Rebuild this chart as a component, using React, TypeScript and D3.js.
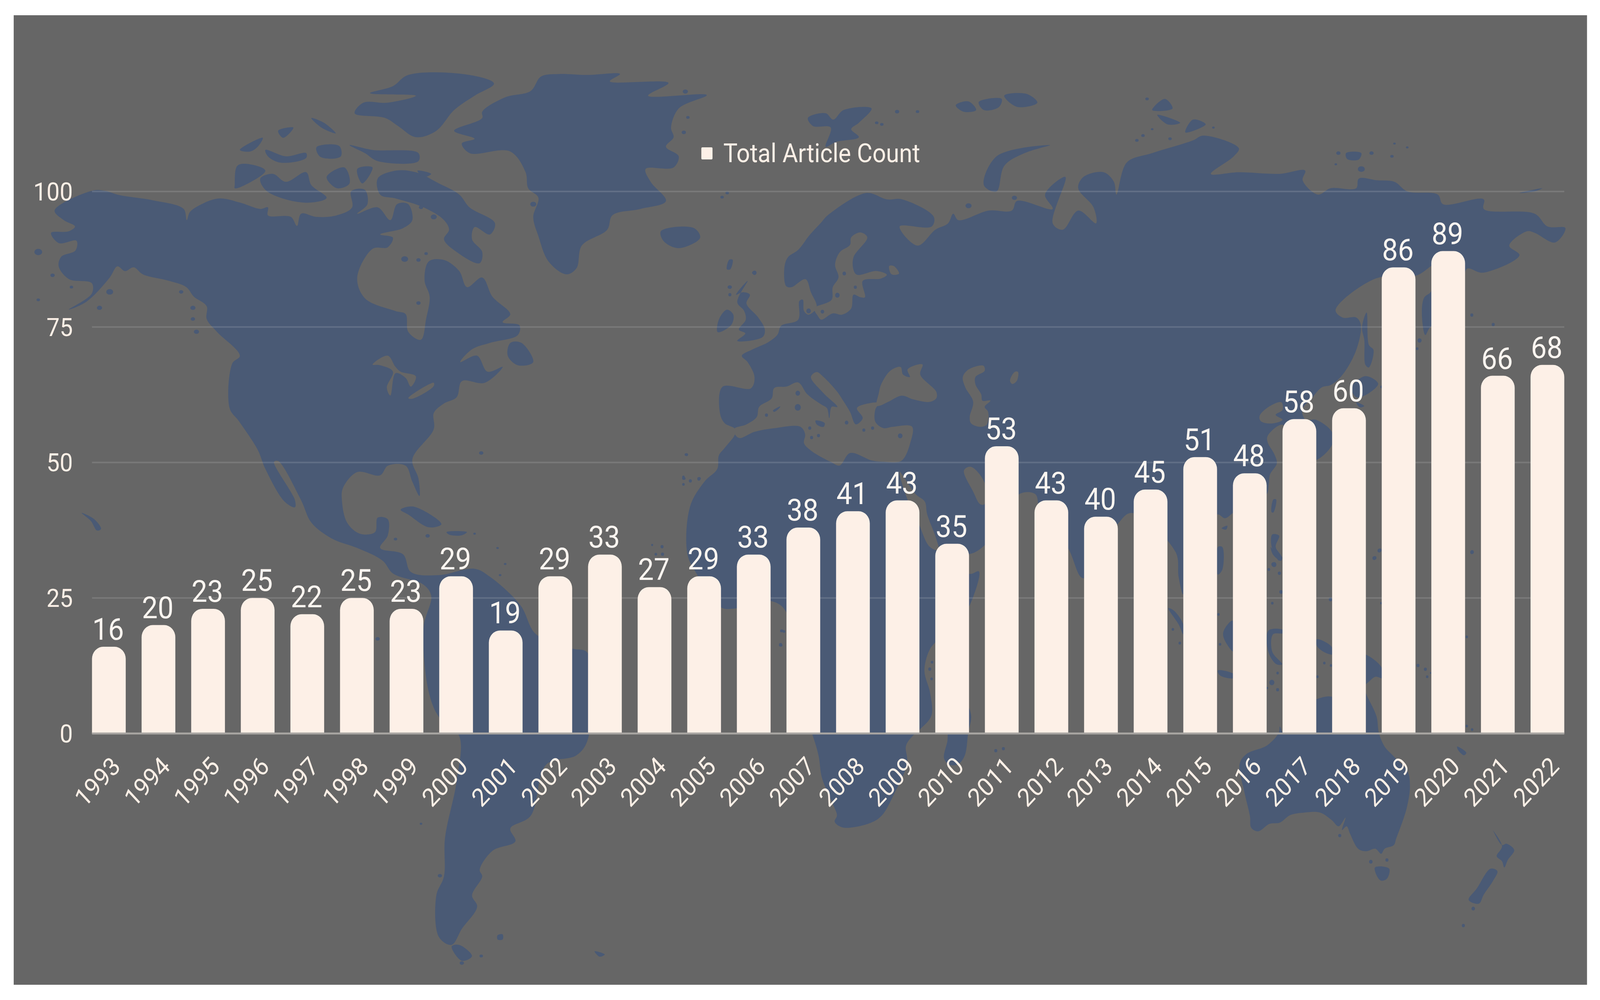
import React from "react";
import * as d3 from "d3";

const years = ["1993","1994","1995","1996","1997","1998","1999","2000","2001","2002","2003","2004","2005","2006","2007","2008","2009","2010","2011","2012","2013","2014","2015","2016","2017","2018","2019","2020","2021","2022"];
const articleCounts = [16,20,23,25,22,25,23,29,19,29,33,27,29,33,38,41,43,35,53,43,40,45,51,48,58,60,86,89,66,68];
const yTicks = [0,25,50,75,100];
const seriesName = "Total Article Count";

type Pt = [number, number];
type Tile = [number, number, number, number];
// Outline tracing frames: origin and scale of each traced crop of the backdrop map
const Z1: Tile = [0,0,1.4145,0.8163];
const Z2: Tile = [2218,0,1.414,0.8163];
const Z3: Tile = [0,1280,1.4145,0.8157];
const Z4: Tile = [2218,1280,1.414,0.8157];
const Z7: Tile = [1900,550,0.638,0.638];
const Z8: Tile = [3300,500,0.638,0.638];
const Z9: Tile = [1800,1200,0.638,0.638];
const Z10: Tile = [3200,1400,0.638,0.638];
const T = (t: Tile, pts: number[][]): Pt[] => pts.map(([x,y]) => [t[0]+x*t[2], t[1]+y*t[3]] as Pt);

const americas: Pt[] = [
  ...T(Z1,[[107,660],[180,598],[205,598],[235,612],[300,628],[360,655],[366,690],[372,665],[395,640],[430,622],[470,635],[510,655],[525,650],[525,675],[570,680],[582,708],[590,670],[620,680],[660,675],[690,650],[688,600],[715,595],[720,640],[700,670],[740,650],[765,690],[778,640],[800,640],[808,690],[790,715],[745,735],[770,745],[760,775],[730,780],[700,870],[715,935],[775,975],[795,985],[800,1040],[825,1065],[835,1000],[842,930],[832,880],[840,820],[870,815],[900,850],[915,900],[945,870],[965,930],[1000,985],[985,1010],[1018,1020],[1015,1050],[960,1075],[925,1095],[902,1135],[935,1115],[955,1165],[985,1150],[950,1200],[905,1195],[895,1245],[870,1265],[850,1295],[850,1345],[808,1440],[820,1500],[822,1555],[808,1510],[795,1460],[760,1460],[745,1490],[700,1480],[672,1530]]),
  ...T(Z3,[[670,0],[680,70],[705,105],[735,100],[740,55],[760,60],[760,110],[745,150],[790,170],[805,225],[860,235],[930,215],[960,240],[1020,330],[1050,420],[1120,465],[1152,480],[1152,750],[1130,800],[1070,830],[1040,990],[1000,1030],[1010,1070],[965,1100],[940,1160],[945,1180],[925,1240],[935,1275],[905,1345],[885,1395],[860,1370],[855,1240],[870,1180],[872,1060],[895,880],[900,740],[860,680],[840,600],[830,400],[845,300],[830,265],[770,230],[750,190],[700,150],[650,120],[610,70],[590,0]]),
  ...T(Z1,[[545,1445],[537,1448],[578,1568]]),
  ...T(Z3,[[578,22],[558,5]]),
  ...T(Z1,[[520,1470],[505,1410],[468,1320],[450,1280],[455,1140],[470,1115],[425,1040],[405,1000],[405,960],[380,930],[365,900],[330,880],[280,860],[262,838],[245,850],[230,835],[215,870],[170,945],[135,970],[180,920],[180,888],[135,875],[115,835],[120,805],[148,785],[150,755],[115,762],[100,730],[135,725],[147,710],[125,690]]),
];

const afroEurasia: Pt[] = [
  ...T(Z7,[[215,858],[170,835],[150,795],[160,690],[285,695],[300,650],[270,590],[245,565],[290,540],[360,510],[400,480],[415,445],[490,420],[495,345],[510,340],[515,385],[535,400],[570,370],[545,310],[522,258],[460,290],[437,285],[430,210],[445,170],[490,140],[540,80],[590,30],[620,0]]),
  ...T(Z2,[[130,605],[170,625],[200,625],[262,680],[258,710],[195,710],[230,770],[265,720],[290,700],[300,670],[310,690],[370,660],[415,660],[425,630],[495,655],[480,610],[520,555],[495,700],[515,720],[545,660],[580,700],[575,650],[545,590],[555,555],[595,540],[615,570],[620,610],[640,510],[690,480],[770,440],[790,425],[860,465],[850,490],[805,545],[860,540],[940,545],[990,535],[985,565],[1015,610],[1040,590],[1090,590],[1095,560],[1130,565],[1165,570],[1190,600],[1250,610],[1260,640],[1340,625],[1340,655],[1440,670],[1465,710],[1500,715],[1480,760],[1440,730],[1425,725],[1390,770],[1410,800]]),
  ...T(Z8,[[1270,310],[1200,295],[1185,420],[1100,500],[1040,530],[1020,560],[1005,470],[1015,410],[1045,385],[1060,280],[985,320],[800,335],[630,460],[660,490],[720,490],[740,520],[720,620],[660,720],[610,760],[570,770],[530,810],[485,860],[500,900],[545,900],[615,950],[615,1000],[550,1060],[520,1060],[460,1000],[400,920],[335,965],[335,990],[365,1040],[375,1075],[345,1120],[340,1160],[330,1200],[190,1270],[150,1295],[115,1280]]),
  ...T(Z10,[[140,150],[125,190],[105,120],[92,20]]),
  ...T(Z4,[[650,40],[620,80],[555,245],[525,150],[470,30]]),
  ...T(Z7,[[1520,1120],[1450,1120],[1380,1230],[1300,1325],[1235,1360],[1100,1340],[1095,1375],[1235,1440],[1275,1430],[1235,1565]]),
  ...T(Z9,[[1320,640],[1243,695],[1215,730],[1195,810],[1220,900],[1225,990],[1175,1045],[1150,1065],[1115,1110],[1120,1180],[1060,1310],[1010,1390],[960,1420],[840,1438],[805,1415],[815,1390],[800,1350],[750,1240],[735,1150],[708,1065],[600,800],[595,575],[530,530],[370,560],[310,555],[205,420],[165,340],[177,150],[240,50],[295,0]]),
  ...T(Z7,[[145,965],[170,935],[215,880]]),
];

const australia: Pt[] = T(Z10,[[370,870],[400,830],[490,795],[540,745],[545,720],[560,745],[640,640],[705,610],[770,600],[860,650],[905,560],[925,600],[965,680],[975,745],[1000,800],[1040,840],[1100,900],[1110,960],[1095,1050],[1050,1170],[1040,1195],[1000,1210],[985,1230],[960,1210],[920,1220],[885,1210],[850,1150],[835,1120],[815,1135],[830,1085],[800,1120],[770,1095],[720,1065],[650,1065],[590,1075],[545,1105],[500,1110],[450,1140],[420,1125],[415,1080],[390,980]]);
const greenland: Pt[] = T(Z1,[[945,350],[990,305],[1040,285],[1060,240],[1095,232],[1150,235],[1215,232],[1195,255],[1310,260],[1270,300],[1385,298],[1330,340],[1315,400],[1320,430],[1305,460],[1330,490],[1320,525],[1265,530],[1275,570],[1305,630],[1255,655],[1200,675],[1190,720],[1140,770],[1130,840],[1110,860],[1075,820],[1055,740],[1045,680],[1055,620],[1035,590],[1030,540],[1000,475],[920,480],[905,450],[930,435],[890,410],[945,370]]);

const seas: Pt[][] = [
  // Mediterranean
  T(Z7,[[212,858],[265,840],[310,810],[320,770],[375,735],[385,695],[440,688],[490,672],[530,720],[590,760],[615,775],[625,815],[635,770],[660,770],[600,715],[545,650],[570,630],[600,650],[660,710],[685,745],[715,790],[740,840],[770,815],[745,775],[800,755],[840,755],[825,780],[825,830],[860,855],[900,850],[985,850],[975,920],[950,975],[930,990],[860,990],[810,985],[715,955],[670,1005],[630,990],[545,945],[515,915],[520,880],[500,850],[390,855],[300,870],[235,895],[215,880]]),
  // Black Sea
  T(Z7,[[840,715],[850,680],[890,625],[935,610],[945,640],[975,650],[965,620],[1030,600],[1020,640],[1090,710],[1090,735],[1060,750],[990,740],[940,725],[880,750],[845,765],[830,765]]),
  // Caspian
  T(Z7,[[1205,650],[1230,620],[1295,605],[1300,625],[1260,650],[1260,680],[1285,720],[1290,745],[1325,745],[1300,770],[1315,790],[1310,840],[1280,850],[1240,835],[1235,810],[1250,750],[1215,690]]),
  T(Z7,[[1410,665],[1430,630],[1445,630],[1440,665],[1420,678]]),
  // Baltic
  T(Z7,[[560,375],[635,340],[640,290],[665,250],[650,200],[670,150],[715,120],[720,90],[760,70],[790,90],[730,170],[730,220],[745,240],[830,225],[875,240],[850,255],[770,265],[780,330],[760,330],[730,320],[720,375],[680,400],[640,395],[590,420],[575,405]]),
  T(Z7,[[885,205],[905,205],[928,235],[895,238]]),
  // Persian Gulf, Red Sea, Aden
  T(Z7,[[1210,1025],[1240,1010],[1300,1075],[1300,1160],[1280,1160],[1250,1110]]),
  T(Z7,[[930,1030],[1000,1120],[1040,1150],[1050,1200],[1090,1300],[1100,1345],[1060,1330],[1010,1230],[960,1130]]),
  // Bohai
  T(Z8,[[300,885],[345,845],[395,830],[400,860],[370,880],[400,900],[350,915],[305,905]]),
  // Great Lakes
  T(Z1,[[730,1143],[760,1115],[775,1150],[785,1165],[815,1180],[805,1212],[795,1185],[775,1170],[765,1240],[758,1215],[770,1165],[745,1145]]),
  T(Z1,[[800,1248],[850,1200],[850,1210],[808,1250]]),
];

const islands: Pt[][] = [
  T(Z1,[[740,560],[775,535],[815,540],[860,575],[900,610],[920,650],[970,700],[960,735],[930,712],[925,750],[945,790],[940,825],[895,790],[870,750],[880,720],[870,690],[830,650],[775,622],[745,610]]),
  T(Z1,[[510,560],[535,545],[560,570],[600,540],[610,580],[640,620],[610,635],[560,625],[520,595]]),
  T(Z1,[[460,580],[465,520],[490,515],[520,535],[480,580],[460,590]]),
  T(Z1,[[640,555],[675,525],[685,575],[660,590]]),
  T(Z1,[[700,530],[730,525],[710,575]]),
  T(Z1,[[818,535],[845,545],[830,555]]),
  T(Z1,[[520,470],[560,490],[600,480],[600,495],[550,510],[525,490]]),
  T(Z1,[[725,292],[770,270],[800,235],[920,235],[968,262],[930,300],[890,345],[855,410],[815,430],[780,395],[755,370],[695,355],[712,322],[760,322],[815,300]]),
  T(Z1,[[685,455],[730,470],[820,480],[820,505],[740,505],[715,480]]),
  T(Z1,[[610,370],[635,385],[658,418],[630,400]]),
  T(Z1,[[470,470],[515,432],[505,460],[490,475]]),
  T(Z1,[[545,410],[575,400],[555,432]]),
  T(Z1,[[620,462],[665,458],[668,490],[628,492]]),
  T(Z1,[[1295,725],[1360,715],[1372,745],[1330,778],[1300,755]]),
  T(Z1,[[1000,1075],[1022,1075],[1045,1135],[1015,1145],[995,1115]]),
  T(Z2,[[15,370],[50,355],[65,375],[85,345],[140,340],[115,385],[100,405],[115,430],[70,445],[50,460],[60,400],[25,395]]),
  T(Z2,[[360,580],[385,490],[490,455],[440,480],[400,520],[385,600]]),
  T(Z2,[[715,310],[730,340],[690,345]]),
  T(Z2,[[700,360],[745,385],[720,390]]),
  T(Z2,[[770,375],[795,390],[755,415]]),
  T(Z2,[[1410,605],[1455,590],[1440,600]]),
  T(Z2,[[1070,480],[1100,480],[1095,500],[1072,498]]),
  T(Z2,[[305,330],[330,318],[345,345],[320,350]]),
  T(Z2,[[350,320],[395,310],[390,335],[360,345]]),
  T(Z2,[[400,300],[445,295],[465,322],[425,335]]),
  // UK, Ireland
  T(Z7,[[270,265],[220,320],[250,310],[280,320],[265,355],[315,410],[345,460],[335,490],[225,505],[260,475],[232,460],[262,420],[255,385],[225,350]]),
  T(Z7,[[145,420],[180,380],[208,400],[200,440],[140,470]]),
  T(Z7,[[190,180],[205,180],[195,218],[180,218]]),
  T(Z7,[[565,825],[605,835],[600,850],[570,840]]),
  T(Z7,[[380,785],[412,768],[405,778],[385,790]]),
  // Madagascar
  T(Z9,[[1380,950],[1398,990],[1385,1060],[1370,1150],[1340,1185],[1300,1185],[1280,1160],[1295,1090],[1300,1040],[1340,990]]),
  // Sakhalin
  T(Z8,[[765,470],[775,600],[795,620],[775,690],[760,680],[755,580],[745,530]]),
  // Japan
  T(Z8,[[700,770],[760,725],[815,755],[780,790],[720,810]]),
  T(Z8,[[720,830],[755,845],[735,850]]),
  T(Z8,[[135,1335],[160,1325],[155,1340]]),
  T(Z8,[[360,1220],[372,1220],[360,1272],[352,1270]]),
  T(Z8,[[355,1360],[385,1365],[370,1410],[395,1450],[385,1465],[360,1430],[350,1395]]),
  // South-east Asia
  T(Z10,[[60,245],[85,255],[125,310],[125,350],[105,310]]),
  T(Z10,[[275,0],[295,0],[295,90],[275,110]]),
  T(Z10,[[340,295],[345,420],[315,390],[298,350],[310,320]]),
  T(Z10,[[275,495],[345,510],[345,525],[285,515]]),
  T(Z10,[[505,0],[530,30],[555,40],[550,55],[515,30]]),
  T(Z10,[[495,335],[560,333],[560,345],[515,350],[512,420],[555,470],[530,470],[495,420]]),
  T(Z10,[[705,370],[770,400],[775,430],[735,420],[705,395]]),
  T(Z10,[[900,430],[985,480],[990,525],[960,520],[925,545],[900,560]]),
  // Tasmania, New Zealand, New Caledonia
  T(Z10,[[958,1285],[1020,1290],[1010,1330],[985,1338],[970,1325]]),
  T(Z10,[[1470,1135],[1510,1195],[1530,1190],[1563,1215],[1535,1255],[1520,1285],[1510,1260],[1487,1240],[1510,1200]]),
  T(Z10,[[1460,1290],[1490,1300],[1470,1340],[1430,1395],[1410,1430],[1365,1415],[1400,1370]]),
  T(Z10,[[1315,800],[1355,825],[1345,835],[1320,815]]),
  // Caribbean, South Atlantic
  T(Z3,[[785,30],[810,20],[865,75],[840,85],[800,45]]),
  T(Z3,[[875,100],[915,100],[905,110],[880,108]]),
  T(Z3,[[885,1400],[900,1395],[925,1430],[905,1445]]),
  T(Z3,[[975,1365],[985,1362],[985,1378],[975,1378]]),
  T(Z3,[[1165,1415],[1185,1425],[1175,1432]]),
  T(Z3,[[160,40],[185,60],[198,90],[190,95],[178,65]]),
];

const dots: [Tile, number, number, number][] = [
  [Z1,75,790,9],[Z1,103,863,5],[Z1,140,900,4],[Z1,75,940,4],[Z1,195,965,6],[Z1,215,915,8],[Z1,355,915,5],[Z1,378,965,6],[Z1,378,1000,5],[Z1,385,1040,6],
  [Z1,1343,287,6],[Z1,1340,415,5],[Z1,1348,368,4],[Z1,1045,640,7],[Z1,1050,690,5],[Z1,850,680,7],[Z1,825,650,5],[Z1,793,812,8],[Z1,820,815,5],[Z1,835,795,4],[Z1,848,1135,7],[Z1,820,950,5],[Z1,943,1420,5],[Z1,1345,1425,4],[Z1,1340,1500,4],[Z1,1370,1500,4],[Z1,1430,900,5],[Z1,1478,855,5],[Z1,1425,605,4],[Z1,1415,618,4],
  [Z2,190,350,5],[Z2,230,350,4],[Z2,150,385,4],[Z2,160,390,4],[Z2,680,310,4],[Z2,690,405,3],[Z2,660,440,4],[Z2,672,425,4],[Z2,725,435,4],[Z2,810,400,3],[Z2,1055,480,5],[Z2,1120,480,5],[Z2,1160,490,4],[Z2,1100,530,8],[Z2,1050,515,3],[Z2,1165,450,3],[Z2,1190,462,3],[Z2,420,620,6],[Z2,330,645,7],
  [Z3,838,112,5],[Z3,775,122,4],[Z3,740,435,5],[Z3,1532,410,4],[Z3,1530,455,4],[Z3,825,1015,3],[Z3,862,1178,5],[Z3,943,1430,4],[Z3,905,1452,5],[Z3,975,150,3],[Z3,930,105,3],[Z3,990,200,3],[Z3,980,235,3],
  [Z7,300,232,8],[Z7,193,290,6],[Z7,193,320,6],[Z7,488,715,9],[Z7,488,772,12],[Z7,352,803,6],[Z7,933,886,9],[Z7,700,833,7],[Z7,775,863,6],[Z7,813,855,6],[Z7,540,855,6],[Z7,548,893,6],[Z7,578,885,6],[Z7,690,235,7],[Z7,738,290,6],[Z7,660,322,9],[Z7,535,385,9],[Z7,595,388,7],[Z7,5,962,5],[Z7,20,1068,4],[Z7,58,1060,5],
  [Z9,148,32,5],[Z9,178,48,6],[Z9,215,40,6],[Z9,148,62,5],[Z9,12,305,4],[Z9,55,312,6],[Z9,28,342,5],[Z9,57,342,6],[Z9,570,705,6],[Z9,585,652,5],[Z9,1228,775,5],[Z9,1218,803,6],[Z9,1226,842,5],[Z9,1505,1130,6],[Z9,1538,1122,6],
  [Z8,1222,480,6],[Z8,1315,518,6],[Z8,995,582,8],[Z8,985,615,5],[Z8,820,1425,7],[Z8,798,1455,7],[Z8,1222,1432,6],[Z8,360,1480,8],[Z8,340,1500,5],[Z8,385,1515,5],[Z8,150,1335,5],[Z8,830,768,5],
  [Z10,80,330,5],[Z10,110,385,5],[Z10,278,270,5],[Z10,285,390,5],[Z10,520,70,9],[Z10,497,90,5],[Z10,543,105,6],[Z10,550,180,7],[Z10,512,225,5],[Z10,510,543,10],[Z10,490,565,4],[Z10,535,505,5],[Z10,535,572,6],[Z10,738,465,5],[Z10,767,475,5],[Z10,708,520,5],[Z10,765,210,7],[Z10,958,43,6],[Z10,980,12,6],[Z10,985,225,4],[Z10,1380,20,7],[Z10,1357,360,5],[Z10,1145,475,6],[Z10,1177,490,6],[Z10,1185,520,5],[Z10,1200,505,3],[Z10,1357,718,5],[Z10,1380,732,5],[Z10,940,1262,7],[Z10,1010,1255,6],[Z10,805,1157,6],[Z10,1385,1450,7],[Z10,1342,1518,6],
];

const W = 4435, H = 2559;
const BG = "#666666", LAND = "#4a5a75", BAR = "#fdf0e7", INK = "#fbefe6";
const FONT = "Roboto, sans-serif";

const x = d3.scaleBand<string>().domain(years).range([255, 4336]).paddingInner(0.32).paddingOuter(0);
const y = d3.scaleLinear().domain([0, 100]).range([1877, 490]);
const outline = d3.line<Pt>().x(d => d[0]).y(d => d[1]).curve(d3.curveCatmullRomClosed.alpha(0.5));

const barPath = (year: string, v: number) => {
  const p = d3.path();
  const x0 = x(year)!, x1 = x0 + x.bandwidth(), y0 = y(0), yt = y(v), r = 31;
  p.moveTo(x0, y0);
  p.lineTo(x0, yt + r);
  p.arcTo(x0, yt, x0 + r, yt, r);
  p.lineTo(x1 - r, yt);
  p.arcTo(x1, yt, x1, yt + r, r);
  p.lineTo(x1, y0);
  p.closePath();
  return p.toString();
};

export default function App() {
  return (
    <svg viewBox={`0 0 ${W} ${H}`} preserveAspectRatio="none" style={{ position: "fixed", left: 0, top: 0, width: "100vw", height: "100vh", display: "block", background: "#fff" }}>
      <rect x={38} y={39} width={4361} height={2481} fill={BG} />
      <g fill={LAND}>
        {[americas, afroEurasia, australia, greenland].map((s, i) => <path key={i} d={outline(s)!} />)}
      </g>
      <g fill={BG}>
        {seas.map((s, i) => <path key={i} d={outline(s)!} />)}
      </g>
      <g fill={LAND}>
        {islands.map((s, i) => <path key={i} d={outline(s)!} />)}
        {dots.map(([t, a, b, r], i) => (
          <ellipse key={i} cx={t[0] + a * t[2]} cy={t[1] + b * t[3]} rx={r * Math.min(1.2, t[2] * 1.1)} ry={r * Math.min(1.2, t[3] * 1.1)} />
        ))}
      </g>
      {yTicks.filter(t => t > 0).map(t => (
        <line key={t} x1={255} x2={4336} y1={y(t)} y2={y(t)} stroke="#ffffff" strokeOpacity={0.13} strokeWidth={4} />
      ))}
      {years.map((yr, i) => <path key={yr} d={barPath(yr, articleCounts[i])} fill={BAR} />)}
      <line x1={255} x2={4336} y1={y(0)} y2={y(0)} stroke="#a8a5a2" strokeWidth={5} />
      <g fontFamily={FONT} fill={INK}>
        {yTicks.map(t => (
          <text key={t} x={202} y={y(t) + 23} fontSize={65} textAnchor="end">{t}</text>
        ))}
        {years.map(yr => {
          const cx = x(yr)! + x.bandwidth() / 2;
          return (
            <text key={yr} x={0} y={0} fontSize={65} textAnchor="end" transform={`translate(${cx + 36},1965) rotate(-45)`}>{yr}</text>
          );
        })}
        {years.map((yr, i) => (
          <text key={yr} x={x(yr)! + x.bandwidth() / 2 - 2} y={y(articleCounts[i]) - 18} fontSize={78} textAnchor="middle" fill="#fbf5f0">{articleCounts[i]}</text>
        ))}
        <rect x={1944} y={377} width={31} height={31} rx={3} fill={BAR} />
        <text x={2005} y={415} fontSize={66}>{seriesName}</text>
      </g>
    </svg>
  );
}
